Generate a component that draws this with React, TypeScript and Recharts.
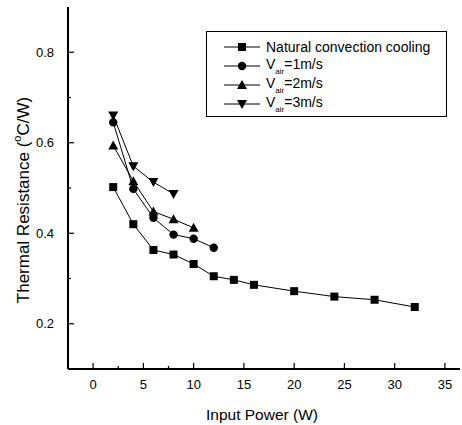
import { LineChart, Line, XAxis, YAxis, Legend } from 'recharts';

const powerNatural = [2, 4, 6, 8, 10, 12, 14, 16, 20, 24, 28, 32];
const resNatural = [0.502, 0.42, 0.363, 0.353, 0.332, 0.305, 0.297, 0.286, 0.272, 0.26, 0.253, 0.237];

const power1 = [2, 4, 6, 8, 10, 12];
const res1 = [0.645, 0.498, 0.434, 0.397, 0.388, 0.368];

const power2 = [2, 4, 6, 8, 10];
const res2 = [0.594, 0.515, 0.448, 0.431, 0.412];

const power3 = [2, 4, 6, 8];
const res3 = [0.66, 0.548, 0.513, 0.487];

const xTicks = [0, 2.5, 5, 7.5, 10, 12.5, 15, 17.5, 20, 22.5, 25, 27.5, 30, 32.5, 35];
const yTicks = [0.2, 0.3, 0.4, 0.5, 0.6, 0.7, 0.8];

const toRows = (xs: number[], ys: number[]) => xs.map((x, i) => ({ x, y: ys[i] }));

const seriesList = [
    { name: 'natural', data: toRows(powerNatural, resNatural), shape: 'square' },
    { name: 'v1', data: toRows(power1, res1), shape: 'circle' },
    { name: 'v2', data: toRows(power2, res2), shape: 'up' },
    { name: 'v3', data: toRows(power3, res3), shape: 'down' },
];

const FONT = '"Liberation Sans", Arial, sans-serif';

function Marker({ cx, cy, shape }: { cx: number; cy: number; shape: string }) {
    if (shape === 'square') return <rect x={cx - 4} y={cy - 4} width={8} height={8} fill="#000" />;
    if (shape === 'circle') return <circle cx={cx} cy={cy} r={4.2} fill="#000" />;
    if (shape === 'up')
        return <polygon points={`${cx},${cy - 5} ${cx - 5},${cy + 4} ${cx + 5},${cy + 4}`} fill="#000" />;
    return <polygon points={`${cx},${cy + 5} ${cx - 5},${cy - 4} ${cx + 5},${cy - 4}`} fill="#000" />;
}

function XTick(props: any) {
    const { x, y, payload } = props;
    const major = payload.value % 5 === 0;
    return (
        <g>
            <line x1={x} x2={x} y1={y} y2={y - (major ? 6 : 3)} stroke="#000" strokeWidth={1.2} />
            {major && (
                <text x={x} y={y + 20} textAnchor="middle" fontSize={13} fontFamily={FONT} fill="#000">
                    {payload.value}
                </text>
            )}
        </g>
    );
}

function YTick(props: any) {
    const { x, y, payload } = props;
    const major = Math.round(payload.value * 10) % 2 === 0;
    return (
        <g>
            <line x1={x} x2={x + (major ? 6 : 3)} y1={y} y2={y} stroke="#000" strokeWidth={1.2} />
            {major && (
                <text x={x - 14} y={y + 4.5} textAnchor="end" fontSize={13} fontFamily={FONT} fill="#000">
                    {payload.value.toFixed(1)}
                </text>
            )}
        </g>
    );
}

const legendRows = [
    { shape: 'square', main: 'Natural convection cooling', sub: '', rest: '' },
    { shape: 'circle', main: 'V', sub: 'air', rest: '=1m/s' },
    { shape: 'up', main: 'V', sub: 'air', rest: '=2m/s' },
    { shape: 'down', main: 'V', sub: 'air', rest: '=3m/s' },
];

function LegendBox() {
    return (
        <div
            style={{
                width: 241,
                height: 86,
                boxSizing: 'border-box',
                border: '1.5px solid #000',
                background: '#fff',
                paddingTop: 5,
                fontFamily: FONT,
                fontSize: 14,
                color: '#000',
            }}
        >
            {legendRows.map((r, i) => (
                <div key={i} style={{ display: 'flex', alignItems: 'center', height: 19 }}>
                    <svg width={59} height={14} style={{ flex: 'none' }}>
                        <line x1={17} x2={53} y1={7} y2={7} stroke="#000" strokeWidth={1} />
                        <Marker cx={35} cy={7} shape={r.shape} />
                    </svg>
                    <span style={{ whiteSpace: 'nowrap', lineHeight: '14px' }}>
                        {r.main}
                        {r.sub && (
                            <span style={{ fontSize: 8, position: 'relative', top: 5 }}>{r.sub}</span>
                        )}
                        {r.rest}
                    </span>
                </div>
            ))}
        </div>
    );
}

export default function App() {
    return (
        <div style={{ position: 'absolute', left: 0, top: 0, background: '#fff' }}>
            <LineChart width={462} height={425} margin={{ top: 7, right: 2, bottom: 0, left: 0 }}>
                <XAxis
                    xAxisId="bottom"
                    type="number"
                    dataKey="x"
                    domain={[-2.5, 36.5]}
                    ticks={xTicks}
                    allowDataOverflow
                    height={56}
                    tickSize={0}
                    tickMargin={0}
                    tickLine={false}
                    tick={<XTick />}
                    axisLine={{ stroke: '#000', strokeWidth: 2 }}
                    label={{
                        content: () => (
                            <text x={262} y={420} textAnchor="middle" fontSize={15.5} fontFamily={FONT} fill="#000">
                                Input Power (W)
                            </text>
                        ),
                    }}
                />
                <XAxis
                    xAxisId="top"
                    orientation="top"
                    type="number"
                    domain={[-2.5, 36.5]}
                    height={0}
                    tick={false}
                    tickLine={false}
                    axisLine={{ stroke: '#000', strokeWidth: 2 }}
                />
                <YAxis
                    yAxisId="left"
                    type="number"
                    domain={[0.1, 0.9]}
                    ticks={yTicks}
                    allowDataOverflow
                    width={68}
                    tickSize={0}
                    tickMargin={0}
                    tickLine={false}
                    tick={<YTick />}
                    axisLine={{ stroke: '#000', strokeWidth: 2 }}
                    label={{
                        content: () => (
                            <text
                                x={23}
                                y={200}
                                transform="rotate(-90, 23, 200)"
                                textAnchor="middle"
                                dominantBaseline="central"
                                fontSize={17}
                                fontFamily={FONT}
                                fill="#000"
                            >
                                Thermal Resistance (
                                <tspan fontSize={11} dy={-6}>o</tspan>
                                <tspan dy={6}>C/W)</tspan>
                            </text>
                        ),
                    }}
                />
                <YAxis
                    yAxisId="right"
                    orientation="right"
                    type="number"
                    domain={[0.1, 0.9]}
                    width={0}
                    tick={false}
                    tickLine={false}
                    axisLine={{ stroke: '#000', strokeWidth: 2 }}
                />
                <Legend
                    layout="vertical"
                    align="center"
                    verticalAlign="middle"
                    wrapperStyle={{ top: 31, left: 206, width: 241 }}
                    content={() => <LegendBox />}
                />
                {seriesList.map((s) => (
                    <Line
                        key={s.name}
                        xAxisId="bottom"
                        yAxisId="left"
                        data={s.data}
                        dataKey="y"
                        stroke="#000"
                        strokeWidth={1}
                        isAnimationActive={false}
                        dot={(p: any) => <Marker key={`${s.name}-${p.index}`} cx={p.cx} cy={p.cy} shape={s.shape} />}
                        activeDot={false}
                    />
                ))}
            </LineChart>
        </div>
    );
}
